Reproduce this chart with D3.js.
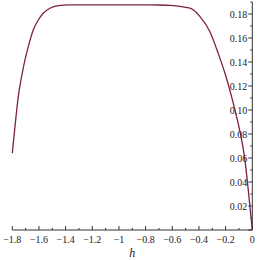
<!DOCTYPE html>
<html lang="en">
<head>
    <meta charset="UTF-8">
    <title>h-curve</title>
    <script src="https://d3js.org/d3.v7.min.js"></script>
    <style>
        body { margin: 0; background: #fff; }
        .tick-label { font-family: "Times New Roman", "Liberation Serif", "DejaVu Serif", serif; font-size: 10px; fill: #222; }
        .axis-line { stroke: #333; stroke-width: 1; }
    </style>
</head>
<body>
    <div id="chart"></div>
    <script>
        // curve values
        const hValues = [-1.8, -1.78, -1.767, -1.748, -1.735, -1.705, -1.68, -1.643, -1.605, -1.568, -1.518, -1.455,
            -1.37, -1.2, -1.0, -0.8, -0.7, -0.617, -0.467, -0.392, -0.317, -0.255, -0.205, -0.155, -0.13,
            -0.08, -0.055, -0.03, 0];
        const yValues = [0.064, 0.086, 0.100, 0.1167, 0.125, 0.1417, 0.1528, 0.1667, 0.175, 0.1806, 0.1848, 0.1870,
            0.1876, 0.1876, 0.1876, 0.1876, 0.1875, 0.1872, 0.1848, 0.1778, 0.165, 0.147, 0.1306, 0.111, 0.100,
            0.075, 0.058, 0.033, 0];
        const xTicks = [-1.8, -1.6, -1.4, -1.2, -1, -0.8, -0.6, -0.4, -0.2, 0];
        const yTicks = [0.02, 0.04, 0.06, 0.08, 0.10, 0.12, 0.14, 0.16, 0.18];

        const width = 260, height = 260;
        const serif = "'Times New Roman', 'Liberation Serif', 'DejaVu Serif', serif";

        const svg = d3.select("#chart").append("svg")
            .attr("width", width)
            .attr("height", height);

        const x = d3.scaleLinear().domain([-1.8, 0]).range([12.3, 252.3]);
        const y = d3.scaleLinear().domain([0, 0.18]).range([230, 14]);

        // x axis (at y = 0), ticks pointing up
        svg.append("line").attr("class", "axis-line")
            .attr("x1", x(-1.8)).attr("x2", x(0))
            .attr("y1", y(0)).attr("y2", y(0));
        const xMinor = d3.range(-1.8, 0.001, 0.1);
        svg.selectAll(".xminor").data(xMinor).enter().append("line")
            .attr("class", "axis-line")
            .attr("x1", d => x(d)).attr("x2", d => x(d))
            .attr("y1", y(0)).attr("y2", (d, i) => y(0) - (i % 2 === 0 ? 4 : 2));
        svg.selectAll(".xlab").data(xTicks).enter().append("text")
            .attr("class", "tick-label")
            .attr("font-family", serif)
            .attr("x", d => x(d))
            .attr("y", y(0) + 13)
            .attr("text-anchor", "middle")
            .text(d => d === 0 ? "0" : d3.format("")(d).replace("-", "\u2212"));

        // y axis (at h = 0), ticks pointing left
        svg.append("line").attr("class", "axis-line")
            .attr("x1", x(0)).attr("x2", x(0))
            .attr("y1", y(0)).attr("y2", y(0.19));
        const yMinor = d3.range(0, 0.1901, 0.01);
        svg.selectAll(".yminor").data(yMinor).enter().append("line")
            .attr("class", "axis-line")
            .attr("x1", x(0)).attr("x2", (d, i) => x(0) - (i % 2 === 0 ? 4 : 2))
            .attr("y1", d => y(d)).attr("y2", d => y(d));
        svg.selectAll(".ylab").data(yTicks).enter().append("text")
            .attr("class", "tick-label")
            .attr("font-family", serif)
            .attr("x", x(0) - 5)
            .attr("y", d => y(d) + 3.5)
            .attr("text-anchor", "end")
            .text(d => d3.format(".2f")(d));

        // axis title
        svg.append("text")
            .attr("class", "tick-label")
            .attr("font-family", serif)
            .attr("x", x(-0.9))
            .attr("y", 257)
            .attr("text-anchor", "middle")
            .style("font-style", "italic")
            .style("font-size", "12px")
            .text("h");

        // curve
        const line = d3.line()
            .x(d => x(d[0]))
            .y(d => y(d[1]))
            .curve(d3.curveMonotoneX);
        svg.append("path")
            .datum(hValues.map((h, i) => [h, yValues[i]]))
            .attr("d", line)
            .attr("fill", "none")
            .attr("stroke", "#7d2040")
            .attr("stroke-width", 1.3);
    </script>
</body>
</html>
